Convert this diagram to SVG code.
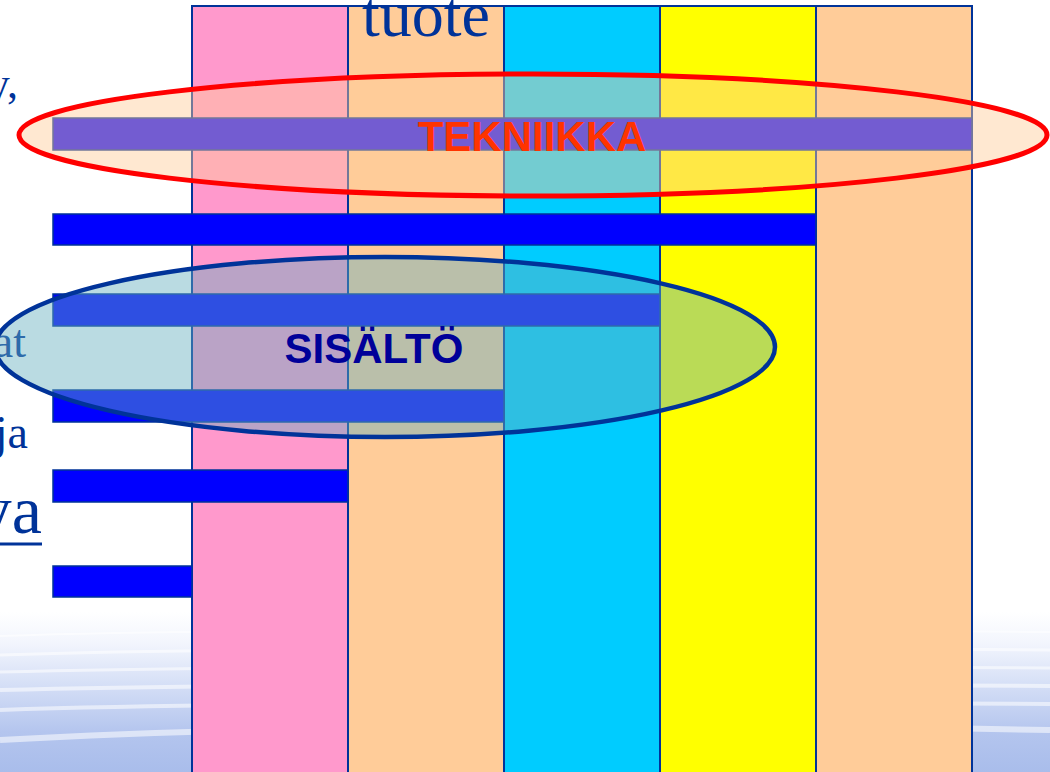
<svg xmlns="http://www.w3.org/2000/svg" width="1050" height="772" viewBox="0 0 1050 772">
  <defs>
    <linearGradient id="water" x1="0" y1="0" x2="0" y2="1">
      <stop offset="0" stop-color="#ffffff"/>
      <stop offset="0.2" stop-color="#f2f5fd"/>
      <stop offset="0.5" stop-color="#d0dbf5"/>
      <stop offset="0.75" stop-color="#b4c5ee"/>
      <stop offset="1" stop-color="#a9bdeb"/>
    </linearGradient>
    <style>
      .col { stroke: #003399; stroke-width: 2; }
      .bar { fill: #0000ff; stroke: #003399; stroke-width: 1.5; }
      .side { font-family: "Liberation Serif", "Times New Roman", serif; fill: #003399; }
      .streak { fill: none; stroke: #ffffff; stroke-opacity: 0.55; }
      .label { font-family: "Liberation Sans", Arial, sans-serif; font-weight: bold; text-anchor: middle; }
    </style>
  </defs>

  <g id="background">
    <rect x="0" y="0" width="1050" height="772" fill="#ffffff"/>
    <rect x="0" y="612" width="1050" height="160" fill="url(#water)"/>
    <path class="streak" stroke-width="2" d="M0,636 Q300,626 1050,632"/>
    <path class="streak" stroke-width="3" d="M0,655 Q300,645 1050,650"/>
    <path class="streak" stroke-width="3" d="M0,672 Q300,664 1050,668"/>
    <path class="streak" stroke-width="4" d="M0,690 Q300,682 1050,686"/>
    <path class="streak" stroke-width="4" stroke-opacity="0.4" d="M0,710 Q300,700 1050,704"/>
    <path class="streak" stroke-width="6" stroke-opacity="0.25" d="M0,740 Q400,718 1050,730"/>
  </g>

  <g id="side-texts">
    <text class="side" x="18" y="98" font-size="44" text-anchor="end">y,</text>
    <text class="side" x="26" y="357" font-size="46" text-anchor="end">at</text>
    <text class="side" x="28" y="448" font-size="46" text-anchor="end">ja</text>
    <text class="side" x="42" y="533" font-size="68" text-anchor="end">ya</text>
    <line x1="0" y1="544" x2="42" y2="544" stroke="#003399" stroke-width="3"/>
  </g>

  <g id="columns">
    <rect class="col" x="192" y="6" width="156" height="780" fill="#ff99cc"/>
    <rect class="col" x="348" y="6" width="156" height="780" fill="#ffcc99"/>
    <rect class="col" x="504" y="6" width="156" height="780" fill="#00ccff"/>
    <rect class="col" x="660" y="6" width="156" height="780" fill="#ffff00"/>
    <rect class="col" x="816" y="6" width="156" height="780" fill="#ffcc99"/>
  </g>

  <g id="title">
    <text class="side" x="426" y="36" font-size="64" text-anchor="middle">tuote</text>
  </g>

  <g id="connectors">
    <rect class="bar" x="53" y="118" width="919" height="32"/>
    <rect class="bar" x="53" y="214" width="763" height="31"/>
    <rect class="bar" x="53" y="294" width="607" height="32"/>
    <rect class="bar" x="53" y="390" width="451" height="32"/>
    <rect class="bar" x="53" y="470" width="295" height="32"/>
    <rect class="bar" x="53" y="566" width="139" height="31"/>
  </g>

  <g id="tekniikka">
    <ellipse cx="533" cy="135" rx="514" ry="61" fill="#ffcc99" fill-opacity="0.45" stroke="#ff0000" stroke-width="5"/>
    <text class="label" x="532" y="151" font-size="42" fill="#ff3300">TEKNIIKKA</text>
  </g>

  <g id="sisalto">
    <ellipse cx="385" cy="347" rx="390" ry="90" fill="#66afbf" fill-opacity="0.45" stroke="#003399" stroke-width="4.5"/>
    <text class="label" x="374" y="363" font-size="42" fill="#000099">SISÄLTÖ</text>
  </g>
</svg>
